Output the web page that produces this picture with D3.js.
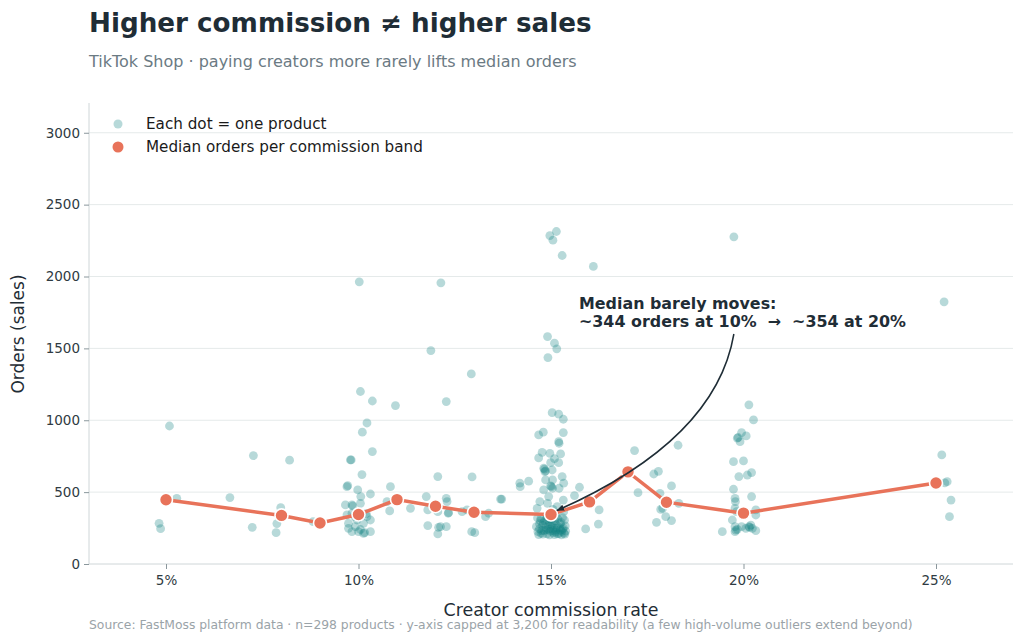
<!DOCTYPE html>
<html>
<head>
<meta charset="utf-8">
<script src="https://cdn.jsdelivr.net/npm/d3@7"></script>
<style>
  body { margin: 0; background: #fff; }
  svg { font-family: "DejaVu Sans", sans-serif; }
</style>
</head>
<body>
<svg id="chart" width="1024" height="641"></svg>
<script>
// median orders per commission band
const bandRates = [5, 8, 9, 10, 11, 12, 13, 15, 16, 17, 18, 20, 25];
const bandMedians = [447, 338, 285, 344, 448, 402, 360, 344, 432, 641, 430, 354, 563];

// one entry per product: [commission rate (jittered as drawn), orders]
const products = [
  // ~5-9%
  [5.09, 960], [5.28, 457], [4.82, 283], [4.86, 246], [6.66, 462], [7.27, 754], [7.24, 255],
  [8.21, 722], [7.98, 392], [7.88, 281], [7.86, 218], [8.82, 295],
  // ~10%
  [10.05, 1200], [10.36, 1134], [10.22, 981], [10.10, 917], [10.36, 782], [9.79, 724], [9.81, 724],
  [10.09, 622], [9.70, 538], [9.72, 545], [9.98, 515], [10.31, 487], [10.06, 469], [9.66, 411],
  [9.83, 411], [9.85, 405], [10.05, 422], [9.83, 353], [9.70, 341], [10.22, 329], [10.31, 306],
  [9.96, 306], [9.74, 283], [9.92, 260], [10.13, 283], [10.00, 225], [10.13, 213], [10.16, 218],
  [10.31, 225], [9.83, 225], [9.74, 248], [10.02, 1963], [10.05, 240], [9.90, 330], [10.20, 350],
  // ~11-14%
  [10.96, 1102], [10.83, 538], [10.74, 434], [10.81, 369], [11.35, 387], [11.76, 469], [11.80, 376],
  [11.80, 267], [11.88, 1485], [12.14, 1956], [12.06, 608], [12.28, 1130], [12.28, 457], [12.33, 353],
  [12.06, 364], [12.13, 260], [12.28, 260], [12.06, 209], [12.08, 255], [12.30, 434], [12.34, 357],
  [12.93, 1322], [12.95, 606], [12.69, 364], [12.82, 376], [13.30, 329], [13.38, 353], [13.02, 218],
  [12.94, 225], [13.69, 452], [14.19, 562], [14.20, 538], [14.42, 576], [13.72, 452],
  // ~15%
  [14.97, 2285], [15.14, 2313], [15.05, 2253], [15.29, 2146], [14.91, 1582], [15.09, 1536], [15.15, 1497],
  [14.92, 1436], [15.03, 1053], [15.20, 1042], [15.32, 1007], [14.68, 898], [14.80, 917], [15.32, 914],
  [15.20, 851], [15.21, 840], [14.77, 777], [14.97, 770], [15.25, 766], [14.68, 738], [15.09, 733],
  [15.20, 705], [14.99, 705], [14.81, 666], [14.83, 660], [14.84, 643], [14.86, 648], [15.03, 654],
  [15.29, 608], [14.86, 585], [15.04, 585], [15.33, 562], [14.99, 543], [15.01, 538], [15.04, 527],
  [14.81, 515], [15.21, 527], [15.74, 534], [15.61, 476], [14.94, 469], [14.71, 434], [15.32, 445],
  [14.91, 422], [15.16, 399], [14.64, 387], [15.33, 364], [15.05, 380],
  [14.65, 320], [14.72, 300], [14.80, 285], [14.88, 310], [14.95, 295], [15.02, 275], [15.10, 300],
  [15.18, 315], [15.26, 290], [15.35, 305], [14.62, 260], [14.70, 245], [14.78, 270], [14.86, 255],
  [14.93, 240], [15.00, 262], [15.08, 248], [15.15, 270], [15.22, 255], [15.30, 240], [15.37, 265],
  [14.66, 225], [14.74, 215], [14.82, 232], [14.90, 210], [14.98, 228], [15.06, 218], [15.13, 235],
  [15.20, 212], [15.28, 226], [15.34, 215], [14.70, 280], [14.76, 232], [14.84, 300], [14.92, 268],
  [15.04, 290], [15.12, 222], [15.24, 280], [15.32, 250], [15.38, 228], [14.68, 205], [14.79, 208],
  [14.96, 202], [15.09, 205], [15.17, 210], [15.27, 203], [15.36, 208], [14.74, 318], [14.89, 330],
  [15.00, 312], [15.14, 328], [15.30, 322], [14.98, 245], [15.16, 252], [14.87, 238], [15.06, 232],
  [15.25, 236],
  // ~16-18%
  [16.10, 2070], [16.25, 376], [16.23, 278], [15.90, 244], [17.17, 789], [17.26, 496], [17.67, 626],
  [17.79, 645], [17.83, 492], [17.90, 387], [17.85, 380], [17.98, 329], [17.74, 290], [18.13, 302],
  [18.30, 826], [18.13, 543], [18.32, 422],
  // ~20%
  [19.75, 2276], [20.14, 1107], [20.26, 1002], [19.95, 914], [19.84, 875], [19.86, 880], [19.91, 851],
  [20.07, 891], [19.74, 712], [20.00, 717], [19.88, 608], [20.10, 619], [20.21, 636], [19.74, 520],
  [20.21, 469], [19.78, 457], [19.79, 434], [19.78, 387], [19.82, 364], [20.32, 376], [20.32, 341],
  [19.71, 306], [19.78, 260], [19.84, 241], [20.06, 248], [20.19, 271], [20.23, 248], [20.32, 232],
  [19.95, 260], [19.78, 225], [19.45, 225], [20.14, 260], [20.16, 255], [19.80, 235],
  // ~25%
  [25.15, 759], [25.29, 573], [25.23, 565], [25.39, 445], [25.35, 329], [25.21, 1824]
];

const xTicks = [5, 10, 15, 20, 25];
const yTicks = [0, 500, 1000, 1500, 2000, 2500, 3000];

const svg = d3.select("#chart");
const margin = { top: 104, right: 11, bottom: 77, left: 89 };
const width = 1024 - margin.left - margin.right,
  height = 641 - margin.top - margin.bottom;

const x = d3.scaleLinear().domain([3, 27]).range([margin.left, margin.left + width]);
const y = d3.scaleLinear().domain([0, 3200]).range([margin.top + height, margin.top]);

const dark = "#1f2d36";
const teal = "#0f8282";
const coral = "#e8735a";

// titles
svg.append("text").attr("x", 89).attr("y", 32)
  .style("font-size", "26.2px").style("font-weight", "bold").attr("fill", dark)
  .text("Higher commission \u2260 higher sales");
svg.append("text").attr("x", 89).attr("y", 67)
  .style("font-size", "16px").attr("fill", "#6b7a83")
  .text("TikTok Shop \u00b7 paying creators more rarely lifts median orders");

// gridlines
svg.append("g").selectAll("line").data(yTicks.slice(1)).enter().append("line")
  .attr("x1", margin.left).attr("x2", margin.left + width)
  .attr("y1", d => y(d)).attr("y2", d => y(d))
  .attr("stroke", "#e5eaea").attr("stroke-width", 1);

// axes
const xAxis = svg.append("g")
  .attr("transform", "translate(0," + (margin.top + height) + ")")
  .call(d3.axisBottom(x).tickValues(xTicks).tickFormat(d => d + "%").tickSize(5).tickPadding(6));
const yAxis = svg.append("g")
  .attr("transform", "translate(" + margin.left + ",0)")
  .call(d3.axisLeft(y).tickValues(yTicks).tickFormat(d3.format("d")).tickSize(5).tickPadding(4));
[xAxis, yAxis].forEach(a => {
  a.select(".domain").attr("stroke", "#cfd6d8");
  a.selectAll(".tick line").attr("stroke", "#8a979c");
  a.selectAll(".tick text").attr("fill", "#2f3b42").style("font-size", "13.5px")
    .style("font-family", "DejaVu Sans, sans-serif");
});
xAxis.select(".domain").attr("d", "M" + margin.left + ",0H" + (margin.left + width));
yAxis.select(".domain").attr("d", "M0," + (margin.top - 1) + "V" + (margin.top + height));

// axis labels
svg.append("text").attr("x", x(15)).attr("y", 616).attr("text-anchor", "middle")
  .style("font-size", "17.4px").attr("fill", dark).text("Creator commission rate");
svg.append("text").attr("transform", "translate(24," + (margin.top + height / 2) + ") rotate(-90)")
  .attr("text-anchor", "middle").style("font-size", "17px").attr("fill", dark)
  .text("Orders (sales)");

// product dots
svg.append("g").selectAll("circle").data(products).enter().append("circle")
  .attr("cx", d => x(d[0])).attr("cy", d => y(d[1])).attr("r", 4.4)
  .attr("fill", teal).attr("fill-opacity", 0.3);

// median line
const medians = bandRates.map((r, i) => [r, bandMedians[i]]);
svg.append("path").datum(medians)
  .attr("fill", "none").attr("stroke", coral).attr("stroke-width", 3.5)
  .attr("d", d3.line().x(d => x(d[0])).y(d => y(d[1])));
svg.append("g").selectAll("circle").data(medians).enter().append("circle")
  .attr("cx", d => x(d[0])).attr("cy", d => y(d[1])).attr("r", 6.5)
  .attr("fill", coral).attr("stroke", "#fff").attr("stroke-width", 1.6);

// annotation
svg.append("defs").append("marker")
  .attr("id", "arrow").attr("viewBox", "0 0 10 10").attr("refX", 9).attr("refY", 5)
  .attr("markerWidth", 8).attr("markerHeight", 8).attr("orient", "auto-start-reverse")
  .attr("markerUnits", "userSpaceOnUse")
  .append("path").attr("d", "M0,1L10,5L0,9z").attr("fill", dark);

const sx = x(19.75), sy = y(1600);
const cx = x(19.28), cy = y(860);
const ex = x(15) + 6, ey = y(344) - 4;
svg.append("path")
  .attr("d", "M" + sx + "," + sy + "Q" + cx + "," + cy + " " + ex + "," + ey)
  .attr("fill", "none").attr("stroke", dark).attr("stroke-width", 1.5)
  .attr("marker-end", "url(#arrow)");

const note = svg.append("text").attr("x", 579).style("font-size", "15.9px")
  .style("font-weight", "bold").style("white-space", "pre").attr("fill", dark);
note.append("tspan").attr("x", 579).attr("y", 309).text("Median barely moves:");
note.append("tspan").attr("x", 579).attr("y", 327)
  .text("~344 orders at 10%  \u2192  ~354 at 20%");

// legend
const legend = svg.append("g");
legend.append("circle").attr("cx", 118).attr("cy", 124).attr("r", 4.5)
  .attr("fill", teal).attr("fill-opacity", 0.3);
legend.append("circle").attr("cx", 118).attr("cy", 147).attr("r", 5.5).attr("fill", coral);
legend.append("text").attr("x", 146).attr("y", 129).style("font-size", "15.2px")
  .attr("fill", "#1a1a1a").text("Each dot = one product");
legend.append("text").attr("x", 146).attr("y", 152).style("font-size", "15.2px")
  .attr("fill", "#1a1a1a").text("Median orders per commission band");

// source
svg.append("text").attr("x", 89).attr("y", 629).style("font-size", "12.35px").attr("fill", "#9aa3a8")
  .text("Source: FastMoss platform data \u00b7 n=298 products \u00b7 y-axis capped at 3,200 for readability (a few high-volume outliers extend beyond)");
</script>
</body>
</html>
